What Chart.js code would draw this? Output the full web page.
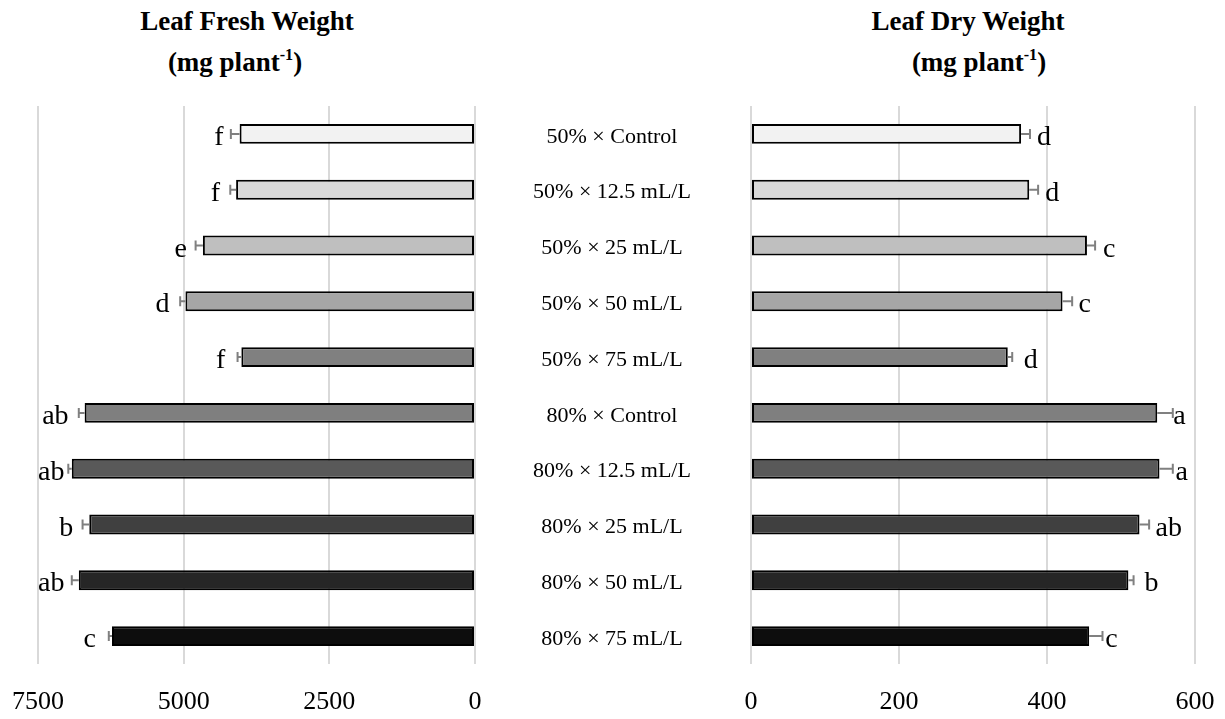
<!DOCTYPE html>
<html><head><meta charset="utf-8">
<script src="https://cdn.jsdelivr.net/npm/chart.js@4.4.0/dist/chart.umd.min.js"></script>
<style>
html,body{margin:0;padding:0;background:#fff;width:1225px;height:719px;overflow:hidden;}
body{position:relative;}
.t{position:absolute;font-family:"Liberation Serif",serif;font-weight:bold;font-size:27px;color:#000;white-space:nowrap;transform:translateX(-50%);line-height:1;}
.t sup{font-size:0.6em;vertical-align:0.65em;line-height:0;}
#c1{position:absolute;left:0;top:0;}
#c2{position:absolute;left:520px;top:0;}
</style></head><body>
<div class="t" style="left:247px;top:8px">Leaf Fresh Weight</div>
<div class="t" style="left:235px;top:49px">(mg plant<sup>-1</sup>)</div>
<div class="t" style="left:968px;top:8px">Leaf Dry Weight</div>
<div class="t" style="left:979px;top:49px">(mg plant<sup>-1</sup>)</div>
<canvas id="c1" width="500" height="719"></canvas>
<canvas id="c2" width="705" height="719"></canvas>
<script>
const categories = ['50% × Control','50% × 12.5 mL/L','50% × 25 mL/L','50% × 50 mL/L','50% × 75 mL/L',
                    '80% × Control','80% × 12.5 mL/L','80% × 25 mL/L','80% × 50 mL/L','80% × 75 mL/L'];
const freshWeight = [4040, 4100, 4670, 4970, 4010, 6700, 6920, 6620, 6800, 6230];
const freshErr    = [150, 100, 125, 90, 65, 100, 60, 115, 120, 55];
const freshLetters = ['f','f','e','d','f','ab','ab','b','ab','c'];
const dryWeight = [365, 376, 454, 421, 347, 549, 552, 525, 510, 457];
const dryErr    = [12, 12, 11, 13, 6, 21, 18, 13, 7, 18];
const dryLetters = ['d','d','c','c','d','a','a','ab','b','c'];
const freshTicks = [0, 2500, 5000, 7500];
const dryTicks = [0, 200, 400, 600];
const barColors = ['#f2f2f2','#d9d9d9','#bfbfbf','#a6a6a6','#808080','#7f7f7f','#595959','#404040','#262626','#0d0d0d'];

const FONT = '"Liberation Serif", serif';

const errPlugin = {
  id: 'errLetters',
  afterDatasetsDraw(chart, args, opts) {
    const {ctx, chartArea} = chart;
    const meta = chart.getDatasetMeta(0);
    const xs = chart.scales.x;
    const ds = chart.data.datasets[0];
    ctx.save();
    meta.data.forEach((bar, i) => {
      const v = ds.data[i];
      const ex = xs.getPixelForValue(v + opts.errors[i]);
      const y = bar.y;
      ctx.strokeStyle = '#808080';
      ctx.lineWidth = 2;
      ctx.beginPath();
      ctx.moveTo(bar.x, y); ctx.lineTo(ex, y);
      ctx.moveTo(ex, y - 5); ctx.lineTo(ex, y + 5);
      ctx.stroke();
      ctx.font = '28px ' + FONT;
      ctx.fillStyle = '#000';
      ctx.textBaseline = 'alphabetic';
      ctx.textAlign = 'left';
      const w = ctx.measureText(opts.letters[i]).width;
      let lx;
      if (opts.dir < 0) { lx = bar.x - 16 - w; if (lx < chartArea.left) lx = chartArea.left; }
      else { lx = bar.x + 16; if (lx + w > chartArea.right) lx = chartArea.right - w; }
      ctx.fillText(opts.letters[i], lx, y + 11);
    });
    ctx.restore();
  }
};

function xScale(ticksArr, reverse) {
  return {
    type: 'linear', min: ticksArr[0], max: ticksArr[ticksArr.length - 1], reverse: reverse,
    afterBuildTicks(axis) { axis.ticks = ticksArr.map(v => ({value: v})); },
    afterFit(axis) { axis.height = 55; axis.paddingLeft = 0; axis.paddingRight = 0; },
    ticks: {padding: 23, font: {family: FONT, size: 26}, color: '#000', callback: v => String(v)},
    grid: {color: '#d9d9d9', lineWidth: 2, drawTicks: false},
    border: {display: false}
  };
}

function dataset(values) {
  return {
    data: values, backgroundColor: barColors, borderColor: '#000', borderWidth: 2,
    borderSkipped: false, barPercentage: 1, categoryPercentage: 0.357
  };
}

// measure widest category label to center the labels in the middle column
const mctx = document.createElement('canvas').getContext('2d');
mctx.font = '22px ' + FONT;
const widest = Math.max(...categories.map(c => mctx.measureText(c).width));
const labelPad = 139 - widest / 2;

new Chart(document.getElementById('c1'), {
  type: 'bar',
  data: {labels: categories, datasets: [dataset(freshWeight)]},
  options: {
    responsive: false, animation: false, devicePixelRatio: 1, indexAxis: 'y',
    layout: {padding: {left: 38, right: 25, top: 106, bottom: 0}},
    plugins: {legend: {display: false}, tooltip: {enabled: false},
      errLetters: {errors: freshErr, letters: freshLetters, dir: -1}},
    scales: {
      x: xScale(freshTicks, true),
      y: {display: false}
    }
  },
  plugins: [errPlugin]
});

new Chart(document.getElementById('c2'), {
  type: 'bar',
  data: {labels: categories, datasets: [dataset(dryWeight)]},
  options: {
    responsive: false, animation: false, devicePixelRatio: 1, indexAxis: 'y',
    layout: {padding: {left: 0, right: 30, top: 106, bottom: 0}},
    plugins: {legend: {display: false}, tooltip: {enabled: false},
      errLetters: {errors: dryErr, letters: dryLetters, dir: 1}},
    scales: {
      x: xScale(dryTicks, false),
      y: {
        position: 'left',
        grid: {display: false, drawTicks: false},
        border: {display: false},
        ticks: {crossAlign: 'center', padding: labelPad, labelOffset: 3, font: {family: FONT, size: 22}, color: '#000'},
        afterFit(axis) { axis.width = 231; axis.paddingTop = 0; axis.paddingBottom = 0; }
      }
    }
  },
  plugins: [errPlugin]
});
</script>
</body></html>
